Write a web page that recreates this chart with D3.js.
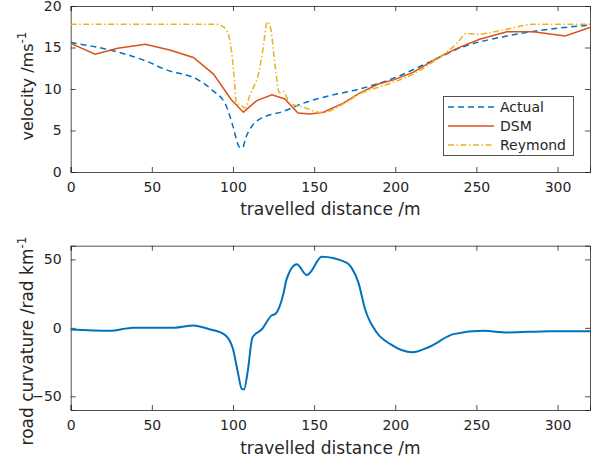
<!DOCTYPE html>
<html><head><meta charset="utf-8">
<script src="https://cdn.jsdelivr.net/npm/d3@7"></script>
<style>body{margin:0;background:#fff}svg{display:block;font-family:"DejaVu Sans",sans-serif}</style>
</head><body><svg id="c" width="598" height="461"></svg>
<script>
// distance (m) and velocity (m/s)
const actualX = [0,24,46,59,78.5,87,96,100,104,106,107.5,111.6,116.7,118.7,131,143.4,162,178,199,219.5,242,266.7,291,320];
const actualY = [15.6,14.7,13.4,12.3,11.1,9.9,7.9,5.5,3.0,2.9,3.9,5.5,6.4,6.6,7.3,8.3,9.3,10.0,11.3,13.1,15.1,16.3,17.1,17.7];
const dsmX = [0,15,29,46,61,75.6,88,99,106.4,110.5,114.7,124,132,140,147.5,155.7,168,178,189.6,199,211,225.6,238,252,268.8,285,304.7,320];
const dsmY = [15.5,14.2,14.9,15.4,14.7,13.8,11.8,8.7,7.2,7.9,8.6,9.3,8.8,7.1,7.0,7.2,8.3,9.5,10.6,11.1,12.0,13.7,14.9,16.0,16.9,16.9,16.4,17.4];
const reymondX = [0,90,93,96,99,101,102,105.4,107.5,110.5,112.6,115.7,118.7,121,123,126,128.6,131,135,143.4,154.7,168,178,192.7,211,225.6,238,244,250,268.8,285,320];
const reymondY = [17.8,17.8,17.6,17.1,14.7,10.7,8.3,8.0,7.7,9.3,10.2,11.8,15.1,18.1,17.5,12.7,9.55,9.7,8.3,7.8,7.15,8.2,9.4,10.4,11.8,13.6,15.5,16.7,16.6,17.2,17.8,17.8];
// curvature (rad/km)
const curvX = [0,24,38.6,64,75.6,85,95,100,103,105.4,106.8,109,112,117.8,124,126,131,133,139.3,145.5,147.5,154.7,170,173,177.3,181.4,188.6,197,210.6,221.5,235.9,254.4,268.8,295.5,320];
const curvY = [-1.2,-2.2,0.1,0.1,1.8,-0.8,-5.1,-15.5,-32.5,-44.6,-45,-32.5,-7,-1,9.2,10,24.5,35.4,46.4,38.6,40.3,52,47.6,44,33,13.6,-3.4,-11.9,-17.9,-13.6,-4.6,-2.2,-3.4,-2.4,-2.4];
const xTicks = [0,50,100,150,200,250,300];
const vTicks = [0,5,10,15,20];
const cTicks = [-50,0,50];
const seriesNames = ["Actual","DSM","Reymond"];

const svg = d3.select("#c");
const axisColor = "#262626";
const L = 70.7, R = 590;
const x = d3.scaleLinear().domain([0,320]).range([L,R]);
const yV = d3.scaleLinear().domain([0,20]).range([172,6]);
const yC = d3.scaleLinear().domain([-60,60]).range([410,245.7]);

function frame(y, yt, top, bottom){
  const g = svg.append("g");
  g.append("g").attr("transform",`translate(0,${bottom})`)
    .call(d3.axisBottom(x).tickValues(xTicks).tickSize(-5).tickPadding(10).tickFormat(d3.format("d")));
  g.append("g").attr("transform",`translate(0,${top})`)
    .call(d3.axisTop(x).tickValues(xTicks).tickSize(-5).tickFormat(""));
  g.append("g").attr("transform",`translate(${L},0)`)
    .call(d3.axisLeft(y).tickValues(yt).tickSize(-5).tickPadding(9).tickFormat(d3.format("d")));
  g.append("g").attr("transform",`translate(${R},0)`)
    .call(d3.axisRight(y).tickValues(yt).tickSize(-5).tickFormat(""));
  g.selectAll(".domain").attr("stroke",axisColor).attr("stroke-opacity",0.8);
  g.selectAll(".tick line").attr("stroke",axisColor).attr("stroke-opacity",0.8);
  g.selectAll(".tick text").attr("fill",axisColor).attr("font-size",14).attr("font-family","DejaVu Sans");
}
frame(yV, vTicks, 6, 172);
frame(yC, cTicks, 245.7, 410);

const line = (xs, ys, y, curve) => d3.line().x((d,i)=>x(xs[i])).y(d=>y(d)).curve(curve||d3.curveLinear)(ys);
svg.append("clipPath").attr("id","cp").append("rect").attr("x",L).attr("y",6).attr("width",R-L).attr("height",166);
const gp = svg.append("g").attr("clip-path","url(#cp)");
gp.append("path").attr("d",line(actualX,actualY,yV,d3.curveMonotoneX)).attr("fill","none").attr("stroke","#0072BD").attr("stroke-width",1.5).attr("stroke-dasharray","6,4");
gp.append("path").attr("d",line(dsmX,dsmY,yV)).attr("fill","none").attr("stroke","#D95319").attr("stroke-width",1.5);
gp.append("path").attr("d",line(reymondX,reymondY,yV,d3.curveMonotoneX)).attr("fill","none").attr("stroke","#EDB120").attr("stroke-width",1.5).attr("stroke-dasharray","6,2.5,1.5,2.5");

svg.append("path").attr("d",line(curvX,curvY,yC,d3.curveMonotoneX)).attr("fill","none").attr("stroke","#0072BD").attr("stroke-width",2);

// legend
const lg = svg.append("g");
lg.append("rect").attr("x",443.5).attr("y",96.5).attr("width",130).attr("height",59).attr("fill","#fff").attr("stroke",axisColor).attr("stroke-opacity",0.8);
const styles = [{c:"#0072BD",d:"6,4"},{c:"#D95319",d:null},{c:"#EDB120",d:"6,2.5,1.5,2.5"}];
seriesNames.forEach((n,i)=>{
  const yy = 107 + i*19;
  lg.append("line").attr("x1",448).attr("x2",494).attr("y1",yy).attr("y2",yy).attr("stroke",styles[i].c).attr("stroke-width",1.5).attr("stroke-dasharray",styles[i].d);
  lg.append("text").attr("x",500).attr("y",yy+5).attr("font-size",14).attr("fill",axisColor).text(n);
});

// axis labels
svg.append("text").attr("x",(L+R)/2).attr("y",215).attr("text-anchor","middle").attr("font-size",17).attr("fill",axisColor).text("travelled distance /m");
svg.append("text").attr("x",(L+R)/2).attr("y",454).attr("text-anchor","middle").attr("font-size",17).attr("fill",axisColor).text("travelled distance /m");
const yl1 = svg.append("text").attr("transform","translate(33,86) rotate(-90)").attr("text-anchor","middle").attr("font-size",16).attr("fill",axisColor);
yl1.append("tspan").text("velocity /ms");
yl1.append("tspan").attr("dy",-7).attr("font-size",12).text("-1");
const yl2 = svg.append("text").attr("transform","translate(33,341) rotate(-90)").attr("text-anchor","middle").attr("font-size",17).attr("fill",axisColor);
yl2.append("tspan").text("road curvature /rad km");
yl2.append("tspan").attr("dy",-7).attr("font-size",12).text("-1");
</script></body></html>
